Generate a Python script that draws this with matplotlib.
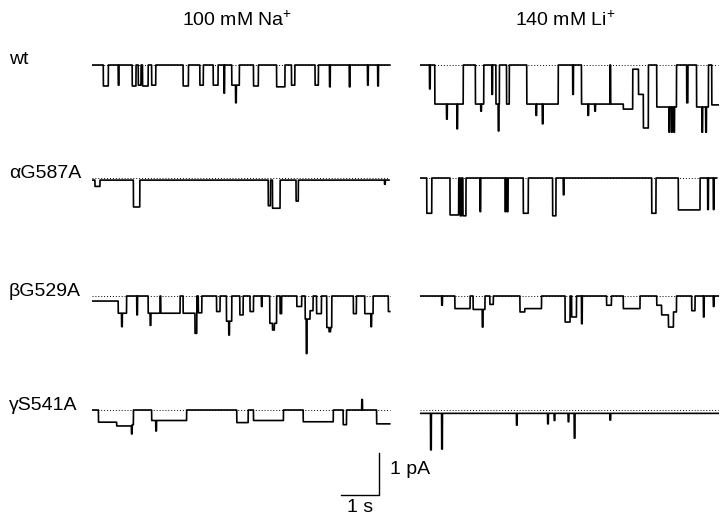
import numpy as np
import matplotlib
matplotlib.use("Agg")
import matplotlib.pyplot as plt

plt.rcParams['font.family'] = ['Liberation Sans', 'DejaVu Sans']
plt.rcParams['mathtext.fontset'] = 'custom'
plt.rcParams['mathtext.rm'] = 'Liberation Sans'

# conditions (columns) and mutants (rows)
conditions = ["100 mM Na$^{+}$", "140 mM Li$^{+}$"]
mutants = ["wt", "\u03b1G587A", "\u03b2G529A", "\u03b3S541A"]

# each trace: (start s, end s, current pA); baseline 0 elsewhere
wt_na = [(0.30, 0.43, -0.50), (0.69, 0.71, -0.48),
         (1.06, 1.16, -0.50), (1.22, 1.29, -0.48), (1.33, 1.48, -0.50), (1.57, 1.68, -0.48),
         (2.40, 2.54, -0.50), (2.84, 2.93, -0.48), (3.19, 3.32, -0.48), (3.47, 3.49, -0.67),
         (3.68, 3.88, -0.48), (3.78, 3.80, -0.90), (4.25, 4.38, -0.50), (4.86, 5.08, -0.52),
         (5.25, 5.34, -0.48), (5.87, 5.96, -0.48), (6.25, 6.27, -0.52), (6.77, 6.79, -0.52),
         (7.25, 7.27, -0.48), (7.52, 7.54, -0.50)]
wt_li = [(0.25, 0.27, -0.57),
         (0.39, 1.14, -0.93), (0.70, 0.72, -1.29), (0.97, 0.99, -1.52),
         (1.46, 1.68, -0.93), (1.60, 1.62, -1.10), (1.89, 1.91, -0.70),
         (2.00, 2.09, -0.93), (2.06, 2.08, -1.57), (2.28, 2.35, -0.93),
         (2.81, 3.64, -0.93), (3.05, 3.07, -1.20), (3.22, 3.24, -1.40), (4.02, 4.04, -0.70),
         (4.25, 5.60, -0.93), (4.42, 4.44, -1.20), (4.60, 4.62, -1.10), (5.00, 5.02, 0.0),
         (5.35, 5.60, -1.05), (5.60, 5.75, -0.10), (5.75, 5.88, -0.70), (5.88, 6.01, -1.50),
         (6.23, 6.75, -1.00), (6.55, 6.57, -1.60), (6.62, 6.64, -1.60), (6.68, 6.70, -1.60),
         (7.02, 7.05, -0.90), (7.28, 7.59, -1.00), (7.42, 7.44, -1.60), (7.52, 7.54, -1.60),
         (7.68, 7.85, -0.95)]
a_na = [(0.0, 7.82, -0.05), (0.08, 0.21, -0.20), (1.09, 1.26, -0.69), (4.64, 4.70, -0.66),
        (4.75, 4.95, -0.72), (5.37, 5.43, -0.55), (7.70, 7.72, -0.15)]
a_li = [(0.18, 0.31, -0.84), (0.79, 1.02, -0.88), (1.06, 1.09, -0.90), (1.13, 1.21, -0.90),
        (1.58, 1.60, -0.80), (2.24, 2.26, -0.80), (2.29, 2.32, -0.80), (2.72, 2.85, -0.84),
        (3.49, 3.58, -0.90), (3.77, 3.79, -0.40), (6.10, 6.21, -0.84), (6.80, 7.37, -0.76),
        (7.57, 7.59, -0.75), (7.72, 7.74, -0.75)]
b_na = [(0.0, 0.69, -0.12), (0.69, 0.91, -0.41), (0.78, 0.80, -0.73), (1.18, 1.20, -0.45),
        (1.48, 2.32, -0.41), (1.53, 1.55, -0.70), (1.79, 1.81, 0.0),
        (2.40, 2.71, -0.41), (2.71, 2.76, -0.89), (2.80, 2.89, -0.40), (3.28, 3.37, -0.37),
        (3.54, 3.68, -0.60), (3.60, 3.62, -0.93), (3.89, 3.98, -0.45), (4.16, 4.25, -0.37),
        (4.46, 4.48, -0.25), (4.68, 4.86, -0.65), (4.75, 4.80, -0.81), (4.95, 4.99, -0.42),
        (5.39, 5.52, -0.25), (5.61, 5.74, -0.55), (5.64, 5.66, -1.37), (5.74, 5.82, -0.35),
        (5.91, 6.04, -0.42), (6.18, 6.31, -0.75), (6.24, 6.28, -0.85), (6.88, 6.96, -0.42),
        (7.18, 7.40, -0.42), (7.34, 7.36, -0.73), (7.80, 7.84, -0.37)]
b_li = [(0.57, 0.59, -0.22), (0.92, 1.32, -0.30), (1.40, 1.71, -0.32), (1.64, 1.66, -0.74),
        (1.84, 1.93, -0.20), (2.63, 2.76, -0.38), (2.76, 3.20, -0.30),
        (3.82, 3.95, -0.62), (3.99, 4.12, -0.50), (4.25, 4.27, -0.66), (4.91, 5.04, -0.22),
        (5.35, 5.79, -0.30), (6.23, 6.36, -0.22), (6.36, 6.54, -0.45), (6.54, 6.67, -0.74),
        (6.67, 6.75, -0.38), (7.15, 7.24, -0.35), (7.46, 7.48, -0.50), (7.72, 7.74, -0.25)]
g_na = [(0.17, 0.65, -0.29), (0.65, 1.04, -0.38), (1.04, 1.06, -0.57), (1.06, 1.09, -0.35),
        (1.57, 2.49, -0.25), (1.68, 1.70, -0.50), (3.81, 4.11, -0.30), (4.25, 5.04, -0.25),
        (5.56, 6.35, -0.28), (6.61, 6.70, -0.35), (7.10, 7.12, 0.25), (7.49, 7.84, -0.33)]
g_li = [(0.0, 7.85, -0.08), (0.28, 0.30, -0.95), (0.57, 0.59, -0.93), (2.54, 2.56, -0.36),
        (3.36, 3.38, -0.33), (3.53, 3.55, -0.25), (3.90, 3.92, -0.28), (4.06, 4.08, -0.67),
        (5.00, 5.02, -0.24)]

durations = [[7.84, 7.85], [7.82, 7.81], [7.84, 7.85], [7.84, 7.85]]
traces = [[wt_na, wt_li], [a_na, a_li], [b_na, b_li], [g_na, g_li]]

scale_time = 1.0   # s
scale_current = 1.0  # pA

W, H = 720, 518
PX_S, PX_PA = 38.0, 42.0
row_base = [65, 178, 296, 410]
col_x0 = [92, 420]


def px_rect(x0, top, w, h):
    return [x0 / W, 1 - (top + h) / H, w / W, h / H]


def step_trace(events, duration):
    t = np.arange(0, duration, 0.004)
    y = np.zeros_like(t)
    for a, b, lvl in events:
        y[(t >= a) & (t < b)] = lvl
    return t, y


fig = plt.figure(figsize=(W / 100, H / 100), dpi=100)

for r, base in enumerate(row_base):
    for c, x0 in enumerate(col_x0):
        ymin, ymax = -2.0, 0.7
        ax = fig.add_axes(px_rect(x0, base - ymax * PX_PA, 7.9 * PX_S, (ymax - ymin) * PX_PA))
        ax.set_xlim(0, 7.9)
        ax.set_ylim(ymin, ymax)
        ax.axis('off')
        t, y = step_trace(traces[r][c], durations[r][c])
        ax.hlines(0, 0, durations[r][c], colors='k', linestyles=(0, (1, 2)), lw=0.7)
        ax.plot(t, y, color='k', lw=1.2)
    fig.text(9 / W, 1 - (base - 5) / H, mutants[r], fontsize=14, va='center', ha='left')

for c, label in enumerate(conditions):
    fig.text((col_x0[c] + 145) / W, 1 - 20 / H, label, fontsize=14, ha='center', va='center')

# scale bar
sb = fig.add_axes(px_rect(340.7, 453, scale_time * PX_S, scale_current * PX_PA))
sb.set_xlim(0, scale_time)
sb.set_ylim(0, scale_current)
sb.axis('off')
sb.plot([0, scale_time, scale_time], [0, 0, scale_current], color='k', lw=1.0, clip_on=False)
fig.text(390 / W, 1 - 470 / H, "1 pA", fontsize=14, va='center', ha='left')
fig.text(360 / W, 1 - 508 / H, "1 s", fontsize=14, va='center', ha='center')

fig.savefig("out.png", dpi=100)
